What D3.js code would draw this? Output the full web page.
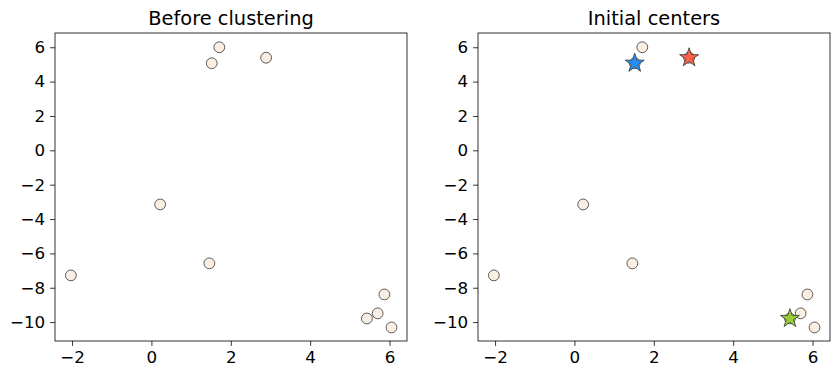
<!DOCTYPE html>
<html>
<head>
<meta charset="utf-8">
<script src="https://cdn.jsdelivr.net/npm/d3@7"></script>
<style>
  body { margin: 0; background: #fff; }
  svg { display: block; font-family: "DejaVu Sans", sans-serif; }
  svg text { font-family: "DejaVu Sans", sans-serif; }
</style>
</head>
<body>
<div id="chart"></div>
<script>
const pointX = [1.71, 1.52, 2.89, 0.22, 1.46, -2.03, 5.87, 5.70, 5.43, 6.05];
const pointY = [6.00, 5.07, 5.39, -3.15, -6.58, -7.28, -8.39, -9.49, -9.79, -10.31];
const centerIdx = [1, 2, 8];
const centerColors = ['#1e90ff', '#ff6347', '#9acd32'];
const titles = ['Before clustering', 'Initial centers'];
const xTicks = [-2, 0, 2, 4, 6];
const yTicks = [-10, -8, -6, -4, -2, 0, 2, 4, 6];

const W = 839, H = 376;
const panelLeft = [55, 478];
const panelW = 352;
const panelTop = 33, panelH = 308;

const svg = d3.select('#chart').append('svg').attr('width', W).attr('height', H);

const fmt = d => (d < 0 ? '\u2212' + Math.abs(d) : String(d));

titles.forEach((title, p) => {
  const g = svg.append('g').attr('transform', `translate(${panelLeft[p]},${panelTop})`);
  const x = d3.scaleLinear().domain([-2.43, 6.44]).range([0, panelW]);
  const y = d3.scaleLinear().domain([-11.1, 6.83]).range([panelH, 0]);

  const xa = g.append('g')
    .attr('transform', `translate(0,${panelH})`)
    .call(d3.axisBottom(x).tickValues(xTicks).tickFormat(fmt).tickSize(4.9).tickPadding(4.9));
  const ya = g.append('g')
    .call(d3.axisLeft(y).tickValues(yTicks).tickFormat(fmt).tickSize(4.9).tickPadding(4.9));
  [xa, ya].forEach(a => {
    a.attr('font-size', 16.7).attr('font-family', 'DejaVu Sans, sans-serif');
    a.select('.domain').remove();
    a.selectAll('line').attr('stroke', '#000').attr('stroke-width', 0.8);
    a.selectAll('text').attr('fill', '#000').attr('font-size', 16.7);
  });

  g.append('rect')
    .attr('width', panelW).attr('height', panelH)
    .attr('fill', 'none').attr('stroke', '#000').attr('stroke-width', 0.8);

  svg.append('text')
    .attr('x', panelLeft[p] + panelW / 2)
    .attr('y', panelTop - 8.3)
    .attr('text-anchor', 'middle')
    .attr('font-size', 19.4)
    .attr('fill', '#000')
    .text(title);

  g.selectAll('circle.pt')
    .data(pointX.map((v, i) => ({ x: v, y: pointY[i] })))
    .join('circle')
    .attr('class', 'pt')
    .attr('cx', d => x(d.x))
    .attr('cy', d => y(d.y))
    .attr('r', 5.4)
    .attr('fill', '#fbefe4')
    .attr('stroke', '#333')
    .attr('stroke-width', 0.8);

  if (p === 1) {
    const star = d3.symbol().type(d3.symbolStar).size(112);
    g.selectAll('path.center')
      .data(centerIdx.map((k, i) => ({ x: pointX[k], y: pointY[k], c: centerColors[i] })))
      .join('path')
      .attr('class', 'center')
      .attr('d', star)
      .attr('transform', d => `translate(${x(d.x)},${y(d.y)})`)
      .attr('fill', d => d.c)
      .attr('stroke', '#333')
      .attr('stroke-width', 0.8);
  }
});
</script>
</body>
</html>
